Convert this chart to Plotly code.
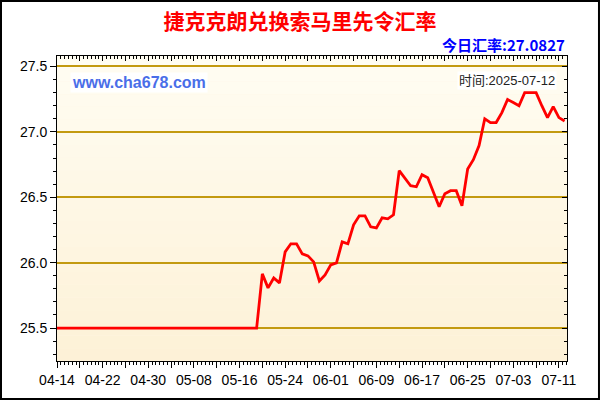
import pandas as pd
import plotly.graph_objs as go

# daily CZK -> SOS rate
start_day = "2025-04-14"
rates = [
	25.5, 25.5, 25.5, 25.5, 25.5, 25.5, 25.5, 25.5, 25.5, 25.5,
	25.5, 25.5, 25.5, 25.5, 25.5, 25.5, 25.5, 25.5, 25.5, 25.5,
	25.5, 25.5, 25.5, 25.5, 25.5, 25.5, 25.5, 25.5, 25.5, 25.5,
	25.5, 25.5, 25.5, 25.5, 25.5, 25.5,
	25.914, 25.807, 25.883, 25.845, 26.082, 26.144, 26.144, 26.067, 26.052, 26.006,
	25.86, 25.906, 25.983, 25.998, 26.159, 26.144, 26.289, 26.358, 26.358, 26.274,
	26.266, 26.343, 26.335, 26.366, 26.703, 26.642, 26.588, 26.58, 26.672, 26.649,
	26.534, 26.427, 26.527, 26.55, 26.55, 26.435, 26.716, 26.787, 26.895, 27.1,
	27.071, 27.071, 27.147, 27.247, 27.224, 27.2, 27.3, 27.3, 27.3, 27.2,
	27.109, 27.193, 27.109, 27.0827]
dates = pd.date_range(start_day, periods=len(rates), freq="D")

y_ticks = [25.5, 26.0, 26.5, 27.0, 27.5]
x_ticks = pd.date_range(start_day, "2025-07-11", freq="4D")
x_labels = [d.strftime("%m-%d") if i % 2 == 0 else "" for i, d in enumerate(x_ticks)]

title_text = "捷克克朗兑换索马里先令汇率"
today_text = "今日汇率:27.0827"
site_text = "www.cha678.com"
time_text = "时间:2025-07-12"

x_range = ["2025-04-14", "2025-07-12 10:00"]
y_range = [25.248, 27.58]

line = go.Scatter(
	x = dates,
	y = rates,
	mode = "lines",
	line = dict(color = "#ff0000", width = 2.8),
	hoverinfo = "skip",
	showlegend = False)

# dummy trace so the mirrored top/right axes get drawn
mirror = go.Scatter(
	x = [dates[0]], y = [rates[0]],
	xaxis = "x2", yaxis = "y2",
	mode = "markers", marker = dict(opacity = 0),
	hoverinfo = "skip", showlegend = False)

# soft cream gradient behind the plot
shapes = []
bands = 24
top_c = (255, 253, 242)
bot_c = (253, 241, 215)
for i in range(bands):
	t = i / (bands - 1)
	c = tuple(int(round(bot_c[k] + (top_c[k] - bot_c[k]) * t)) for k in range(3))
	shapes.append(dict(
		type = "rect", xref = "paper", yref = "paper",
		x0 = 0, x1 = 1, y0 = i / bands, y1 = (i + 1) / bands,
		fillcolor = "rgb(%d,%d,%d)" % c, line = dict(width = 0), layer = "below"))

# black frame round the whole picture
shapes.append(dict(
	type = "rect", xref = "paper", yref = "paper",
	x0 = -0.1098, x1 = 1.0627, y0 = -0.1245, y1 = 1.1805,
	line = dict(color = "#000", width = 2)))

tick_font = dict(family = "Liberation Sans, Arial", size = 14, color = "#000")

layout = go.Layout(
	width = 600, height = 400,
	margin = dict(l = 57, r = 33, t = 56, b = 39),
	paper_bgcolor = "#ffffff",
	plot_bgcolor = "#fef7e4",
	title = dict(
		text = "<b>" + title_text + "</b>",
		x = 0.5, xanchor = "center", y = 0.945, yanchor = "middle",
		font = dict(family = "Noto Sans CJK SC", size = 21, color = "#ff0000")),
	xaxis = dict(
		type = "date", range = x_range,
		tickmode = "array", tickvals = x_ticks, ticktext = x_labels,
		ticks = "outside", ticklen = 6, tickcolor = "#000", tickwidth = 1,
		minor = dict(ticks = "outside", ticklen = 3, tickcolor = "#000",
			dtick = 16 * 3600000, tick0 = start_day, showgrid = False),
		showgrid = False, zeroline = False,
		showline = True, linecolor = "#000", linewidth = 1,
		tickfont = tick_font),
	yaxis = dict(
		range = y_range,
		tickmode = "array", tickvals = y_ticks, ticktext = [str(v) for v in y_ticks],
		ticks = "outside", ticklen = 6, tickcolor = "#000",
		minor = dict(ticks = "outside", ticklen = 3, tickcolor = "#000", dtick = 0.1, tick0 = 25.5, showgrid = False),
		showgrid = True, gridcolor = "#c39a10", gridwidth = 1.5,
		zeroline = False, showline = True, linecolor = "#000", linewidth = 1,
		tickfont = tick_font),
	xaxis2 = dict(
		type = "date", overlaying = "x", side = "top", matches = "x", range = x_range,
		tickmode = "array", tickvals = x_ticks, ticks = "inside", ticklen = 5, tickcolor = "#000",
		minor = dict(ticks = "inside", ticklen = 3, tickcolor = "#000",
			dtick = 16 * 3600000, tick0 = start_day, showgrid = False),
		showticklabels = False, showgrid = False, zeroline = False,
		showline = True, linecolor = "#000", linewidth = 1),
	yaxis2 = dict(
		overlaying = "y", side = "right", matches = "y", range = y_range,
		tickmode = "array", tickvals = y_ticks, ticks = "inside", ticklen = 5, tickcolor = "#000",
		minor = dict(ticks = "inside", ticklen = 3, tickcolor = "#000", dtick = 0.1, tick0 = 25.5, showgrid = False),
		showticklabels = False, showgrid = False, zeroline = False,
		showline = True, linecolor = "#000", linewidth = 1),
	shapes = shapes,
	annotations = [
		dict(text = "<b>" + today_text + "</b>", xref = "paper", yref = "paper",
			x = 1.0, y = 1.039, xanchor = "right", yanchor = "middle", showarrow = False,
			font = dict(family = "Noto Sans CJK SC", size = 15, color = "#0000ff")),
		dict(text = "<b>" + site_text + "</b>", xref = "paper", yref = "paper",
			x = 0.025, y = 0.9115, xanchor = "left", yanchor = "middle", showarrow = False,
			bgcolor = "#ffffff", borderpad = 1,
			font = dict(family = "Liberation Sans, Arial", size = 16, color = "#4a6ee8")),
		dict(text = time_text, xref = "paper", yref = "paper",
			x = 0.98, y = 0.921, xanchor = "right", yanchor = "middle", showarrow = False,
			bgcolor = "#ffffff", borderpad = 1,
			font = dict(family = "Liberation Sans, Noto Sans CJK SC", size = 13, color = "#222")),
	],
	hovermode = False)

fig = go.Figure(data = [line, mirror], layout = layout)
# page body has an 8px default margin; drop it so the chart sits at 0,0
fig.write_html("out.html", config = {"displayModeBar": False},
	post_script = "document.body.style.margin = '0px';")
